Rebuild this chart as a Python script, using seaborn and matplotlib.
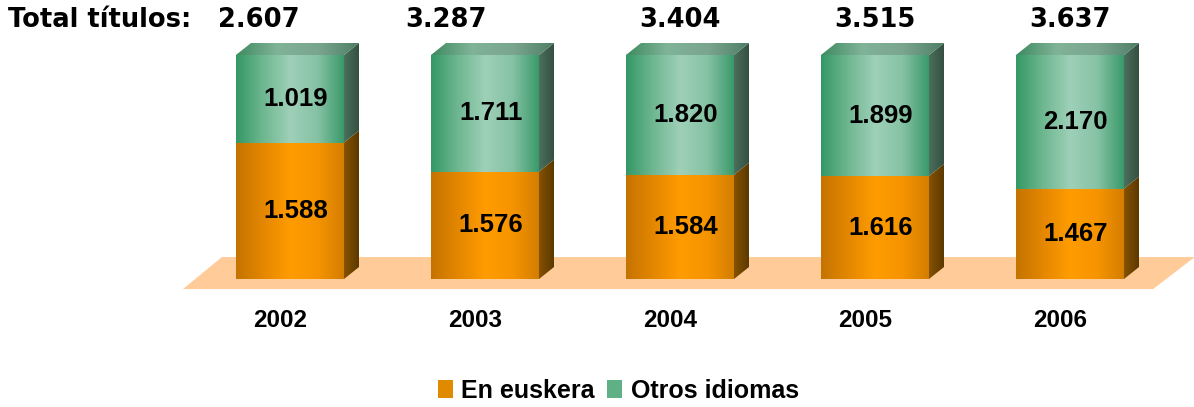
import numpy as np
import matplotlib
matplotlib.use("Agg")
import matplotlib.pyplot as plt
import seaborn as sns
from matplotlib.colors import LinearSegmentedColormap
from matplotlib.patches import Polygon, Patch
import matplotlib.transforms as mtransforms

# data
years = ["2002", "2003", "2004", "2005", "2006"]
en_euskera = [1588, 1576, 1584, 1616, 1467]
otros_idiomas = [1019, 1711, 1820, 1899, 2170]
totales = [2607, 3287, 3404, 3515, 3637]

euskera_pct = [e / t * 100 for e, t in zip(en_euskera, totales)]
total_pct = [100] * len(years)

def fmt(v):
    return f"{v:,}".replace(",", ".")

sns.set_theme(style="white")
plt.rcParams["font.family"] = ["Liberation Sans", "DejaVu Sans"]
plt.rcParams["text.color"] = "black"

fig = plt.figure(figsize=(11.94, 4.07), dpi=100)
ax = fig.add_axes([0, 0, 1, 1])

# pixel layout helpers (px per category unit / per percent)
PX_X, PX_Y = 195.0, 2.24
dx, dy = 15 / PX_X, 12 / PX_Y

# floor
floor = Polygon([(-0.549, -4.5), (-0.349, 9.8), (4.64, 9.8), (4.426, -4.5)],
                closed=True, facecolor="#FFCC99", edgecolor="none", zorder=0.5)
ax.add_patch(floor)

# bars (100% stacked)
sns.barplot(x=years, y=total_pct, color="#3A9A6A", width=0.554, saturation=1,
            edgecolor="none", ax=ax, zorder=1)
sns.barplot(x=years, y=euskera_pct, color="#F09000", width=0.554, saturation=1,
            edgecolor="none", ax=ax, zorder=1)

cm_or_front = LinearSegmentedColormap.from_list("of", ["#C57300", "#E48700", "#FF9C00", "#F69400", "#D27D00"])
cm_gr_front = LinearSegmentedColormap.from_list("gf", ["#349865", "#6FB791", "#9ED0B8", "#86C2A4", "#379868"])
cm_or_side = LinearSegmentedColormap.from_list("os", ["#855200", "#5C3900"])
cm_gr_side = LinearSegmentedColormap.from_list("gs", ["#4A705C", "#354F41"])
cm_gr_top = LinearSegmentedColormap.from_list("gt", ["#3E8A60", "#80B398", "#7AA58E", "#4D7C64"])

grad = np.linspace(0, 1, 256).reshape(1, -1)


def fill_gradient(verts, cmap, z):
    poly = Polygon(verts, closed=True, facecolor="none", edgecolor="none",
                   transform=ax.transData, zorder=z)
    ax.add_patch(poly)
    xs = [v[0] for v in verts]
    ys = [v[1] for v in verts]
    im = ax.imshow(grad, cmap=cmap, aspect="auto", interpolation="bicubic",
                   extent=[min(xs), max(xs), min(ys), max(ys)], zorder=z)
    im.set_clip_path(poly)


n = len(years)
green_bars = ax.patches[1:1 + n]
orange_bars = ax.patches[1 + n:1 + 2 * n]

for gb, ob in zip(green_bars, orange_bars):
    xl = ob.get_x()
    xr = xl + ob.get_width()
    yo = ob.get_height()
    yt = gb.get_height()
    # front faces
    fill_gradient([(xl, 0), (xr, 0), (xr, yo), (xl, yo)], cm_or_front, 2)
    fill_gradient([(xl, yo), (xr, yo), (xr, yt), (xl, yt)], cm_gr_front, 2)
    # side faces
    fill_gradient([(xr, 0), (xr + dx, dy), (xr + dx, yo + dy), (xr, yo)], cm_or_side, 2)
    fill_gradient([(xr, yo), (xr + dx, yo + dy), (xr + dx, yt + dy), (xr, yt)], cm_gr_side, 2)
    # top face
    fill_gradient([(xl, yt), (xl + dx, yt + dy), (xr + dx, yt + dy), (xr, yt)], cm_gr_top, 2)

# value labels
for i in range(n):
    ax.text(i + 0.03, euskera_pct[i] / 2, fmt(en_euskera[i]), ha="center", va="center",
            fontsize=18.5, fontweight="bold", color="black", zorder=5)
    ax.text(i + 0.03, (euskera_pct[i] + 100) / 2, fmt(otros_idiomas[i]), ha="center",
            va="center", fontsize=18.5, fontweight="bold", color="black", zorder=5)
    ax.text(i - 0.05, -18.5, years[i], ha="center", va="center",
            fontsize=17.5, fontweight="bold", color="black", zorder=5)

# totals row
trans = mtransforms.blended_transform_factory(ax.transData, ax.transAxes)
total_shift = [-0.16, -0.2, 0.0, 0.0, 0.0]
for i in range(n):
    ax.text(i + total_shift[i], 1 - 20 / 407, fmt(totales[i]), transform=trans,
            ha="center", va="center", fontsize=18.5, fontweight="bold",
            family="DejaVu Sans", color="black")
fig.text(8 / 1194, 1 - 20 / 407, "Total títulos:", ha="left", va="center",
         fontsize=18.5, fontweight="bold", family="DejaVu Sans", color="black")

# legend
handles = [Patch(facecolor="#E08A00", edgecolor="none", label="En euskera"),
           Patch(facecolor="#5FB085", edgecolor="none", label="Otros idiomas")]
fig.legend(handles=handles, loc="center", bbox_to_anchor=(0.518, 1 - 391 / 407),
           ncol=2, frameon=False, handlelength=0.6, handleheight=0.75,
           handletextpad=0.35, columnspacing=0.5, labelcolor="black",
           prop={"weight": "bold", "size": 18})

ax.set_xlim(-290 / PX_X, (1194 - 290) / PX_X)
ax.set_ylim(-128 / PX_Y, (407 - 128) / PX_Y)
ax.axis("off")

fig.savefig("out.png", dpi=100)
